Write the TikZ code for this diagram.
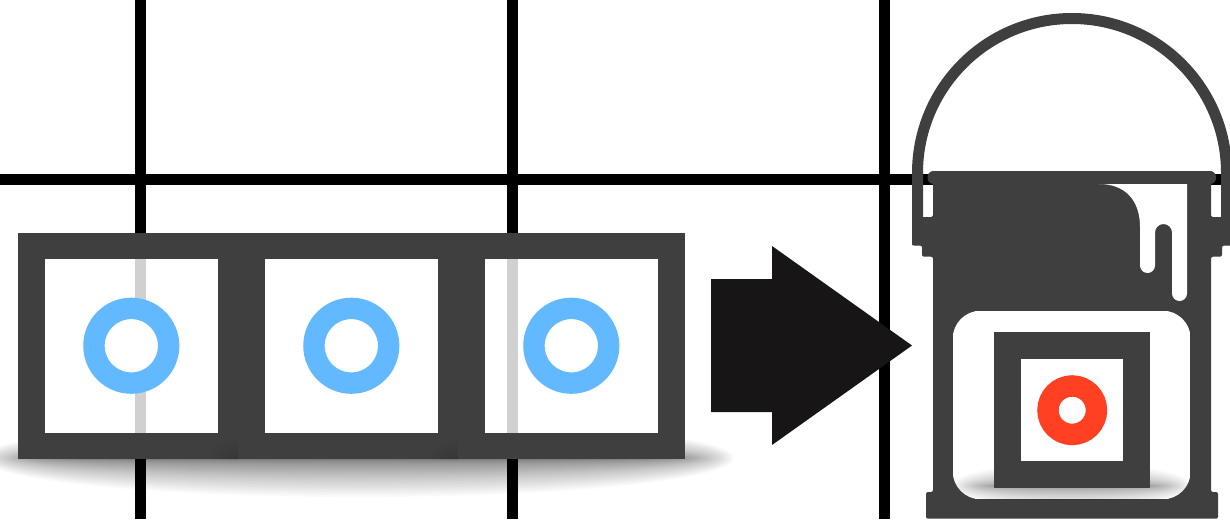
\documentclass[tikz,border=0pt]{standalone}
\usepackage{tikz}
\definecolor{boxgray}{HTML}{3F3F3F}
\definecolor{ringblue}{HTML}{63B9FF}
\definecolor{ringred}{HTML}{FF4022}
\definecolor{arrowblack}{HTML}{171515}
\tikzset{
  cellbox/.style={draw=boxgray, fill=white, fill opacity=0.815, rectangle, line width=13.25pt, minimum size=100pt, inner sep=0pt},
  ring/.style={draw=#1, fill=white, circle, line width=10.7pt, inner sep=0pt},
  softshade/.style={fill=black, fill opacity=#1}
}
\begin{document}
\begin{tikzpicture}[x=0.5pt, y=-0.5pt]
\clip (0,0) rectangle (1230,519);
% Grid
\draw[line width=5.5pt] (140.5,0) -- (140.5,519);
\draw[line width=5.5pt] (512.5,0) -- (512.5,519);
\draw[line width=5.5pt] (884.5,0) -- (884.5,519);
\draw[line width=5.5pt] (0,179) -- (1230,179);

% Shadow under the cells
\begin{scope}
\clip (0,440) rectangle (780,519);
\foreach \k in {1,...,40}
  \fill[softshade=0.018] (358,458) ellipse [x radius={378-2.1*\k}, y radius={1+40*(1-\k/41)^2}];
\end{scope}

% Cells
\node[cellbox] (c1) at (131.3,345.75) {};
\node[cellbox] (c2) at (351.3,345.75) {};
\node[cellbox] (c3) at (571.3,345.75) {};
\node[ring=ringblue, minimum size=37.35pt] (r1) at (c1) {};
\node[ring=ringblue, minimum size=37.35pt] (r2) at (c2) {};
\node[ring=ringblue, minimum size=37.35pt] (r3) at (c3) {};

% Seams between the cells
\foreach \sx in {238,458} {
  \begin{scope}
  \clip (\sx-30,433) rectangle (\sx,459);
  \foreach \k in {1,...,8}
    \fill[softshade=0.01] (\sx,459) ellipse [x radius={32-3.5*\k}, y radius={22-2.4*\k}];
  \end{scope}
}

% Arrow
\fill[arrowblack] (711,279) -- (772,279) -- (772,246) -- (912,345.5) -- (772,445) -- (772,412) -- (711,412) -- cycle;

% Bucket handle
\draw[boxgray, line width=5.5pt] (917.5,245) -- (917.5,173) arc (180:360:154.5) -- (1226.5,245);
% Bucket body
\fill[boxgray, rounded corners=1pt] (912,217) -- (912,245.5) -- (922,245.5) -- (922,256.7) -- (933,256.7) -- (933,492) -- (926,492)
  -- (926,518.7) -- (1218,518.7) -- (1218,492) -- (1211,492) -- (1211,256.7) -- (1222,256.7) -- (1222,245.5) -- (1232,245.5)
  -- (1232,217) -- (1211,217) -- (1211,180) -- (933,180) -- (933,217) -- cycle;
% Rim
\fill[boxgray, rounded corners=3pt] (927.5,171) rectangle (1216,184);
% Paint drips
\fill[white] (1099,184) .. controls (1125,184) and (1140,200) .. (1140,227) -- (1140,265.5) arc (180:0:7.5) -- (1155,232.5)
  arc (180:360:8.5) -- (1172,293.5) arc (180:0:7.5) -- (1187,184) -- cycle;

% Label
\begin{scope}
\path[clip, rounded corners=14pt] (952.7,310.7) rectangle (1190.7,499.3);
\fill[white] (952.7,310.7) rectangle (1190.7,499.3);
\foreach \k in {1,...,24}
  \fill[softshade=0.02] (1072,486) ellipse [x radius={122-2*\k}, y radius={1+24*(1-\k/25)^2}];
\end{scope}
\node[cellbox, fill opacity=1, minimum size=64.5pt] (c4) at (1072.2,410.2) {};
\node[ring=ringred, minimum size=24.25pt] (r4) at (c4) {};
\end{tikzpicture}
\end{document}
